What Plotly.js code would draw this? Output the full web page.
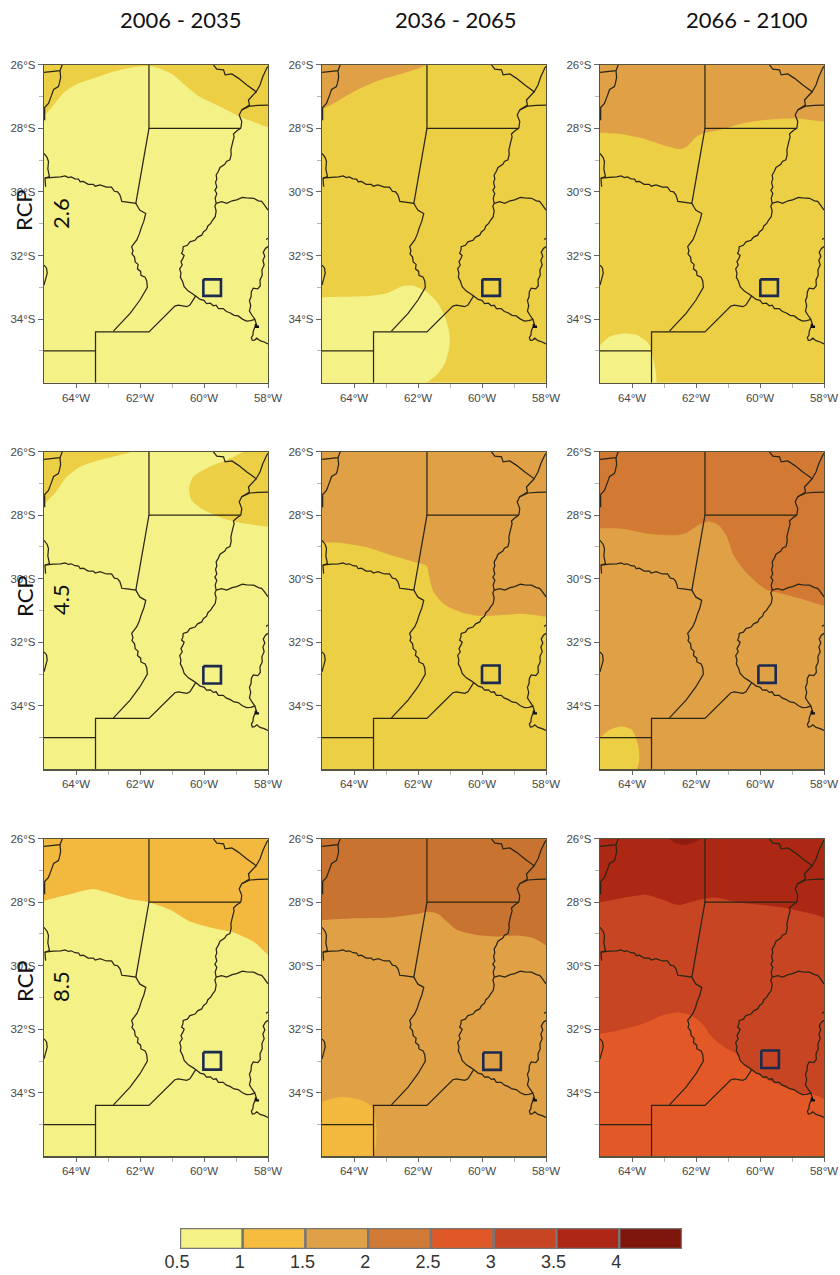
<!DOCTYPE html>
<html>
<head>
<meta charset="utf-8">
<script src="https://cdn.plot.ly/plotly-3.0.1.min.js"></script>
<style>html,body{margin:0;padding:0;background:#fff}#chart{width:840px;height:1275px}</style>
</head>
<body>
<div id="chart"></div>
<script>
// ---------- Categories and legend ----------
const periods = ['2006 - 2035', '2036 - 2065', '2066 - 2100'];
const scenarios = ['2.6', '4.5', '8.5'];
const legendCenters = [0.75, 1.25, 1.75, 2.25, 2.75, 3.25, 3.75, 4.25];
const legendWidths = [0.5, 0.5, 0.5, 0.5, 0.5, 0.5, 0.5, 0.5];
const legendValues = [1, 1, 1, 1, 1, 1, 1, 1];
const legendColors = ['#F4F287', '#F5BC40', '#E0A047', '#D07A35', '#E05827', '#C74522', '#AD2616', '#7E160C'];
const legendTicks = [0.5, 1, 1.5, 2, 2.5, 3, 3.5, 4];
const legendLabels = ['0.5', '1', '1.5', '2', '2.5', '3', '3.5', '4'];

// Map tick values
const lonTicks = [-64, -62, -60, -58];
const lonLabels = ['64°W', '62°W', '60°W', '58°W'];
const lonMinor = [-63, -61, -59];
const latTicks = [-26, -28, -30, -32, -34];
const latLabels = ['26°S', '28°S', '30°S', '32°S', '34°S'];
const latMinor = [-27, -29, -31, -33, -35];

// ---------- Boundaries [lon, lat] ----------
const santaFeNorth = [[-61.72,-26],[-61.72,-28],[-58.85,-28]];
const santaFeWest = [[-61.72,-28],[-62.13,-30.36]];
const cordobaNorthEast = [[-64.97,-29.57],[-64.71,-29.54],[-64.48,-29.53],[-64.34,-29.50],[-64.24,-29.55],[-64.15,-29.53],[-64.03,-29.59],[-63.92,-29.60],[-63.87,-29.68],[-63.77,-29.67],[-63.62,-29.76],[-63.46,-29.76],[-63.40,-29.82],[-63.25,-29.78],[-63.05,-29.85],[-62.89,-29.85],[-62.80,-29.98],[-62.70,-30.0],[-62.63,-30.09],[-62.60,-30.18],[-62.57,-30.30],[-62.40,-30.32],[-62.13,-30.36],[-62.05,-30.50],[-62.0,-30.58],[-61.82,-30.68],[-61.88,-30.92],[-61.95,-31.10],[-62.02,-31.32],[-62.10,-31.51],[-62.26,-31.72],[-62.22,-31.85],[-62.25,-31.95],[-62.17,-32.05],[-62.15,-32.20],[-62.06,-32.28],[-62.08,-32.42],[-61.98,-32.50],[-61.97,-32.62],[-61.84,-32.68],[-61.79,-32.80],[-61.77,-33.0],[-62.0,-33.4],[-62.31,-33.82],[-62.83,-34.38]];
const buenosAiresNorth = [[-65,-35],[-63.39,-35],[null,null],[-63.39,-36],[-63.39,-34.40],[-61.72,-34.40],[-60.91,-33.59],[-60.80,-33.56],[-60.54,-33.61],[-60.44,-33.56],[-60.26,-33.27]];
const paranaNorth = [[-58.85,-28],[-58.82,-27.79],[-58.90,-27.58],[-58.82,-27.42],[-58.56,-27.30],[-58.30,-27.28],[-58,-27.27]];
const paranaSouth = [[-58.85,-28],[-58.97,-28.08],[-59.08,-28.18],[-59.06,-28.27],[-59.10,-28.42],[-59.13,-28.55],[-59.16,-28.68],[-59.15,-28.82],[-59.19,-28.99],[-59.30,-29.04],[-59.35,-29.13],[-59.50,-29.23],[-59.55,-29.35],[-59.62,-29.47],[-59.60,-29.60],[-59.64,-29.70],[-59.60,-29.85],[-59.66,-29.95],[-59.60,-30.05],[-59.65,-30.20],[-59.62,-30.36],[-59.66,-30.45],[-59.62,-30.60],[-59.65,-30.78],[-59.74,-30.90],[-59.79,-30.99],[-59.88,-31.07],[-59.92,-31.18],[-60.02,-31.26],[-60.07,-31.36],[-60.20,-31.42],[-60.28,-31.52],[-60.44,-31.57],[-60.52,-31.68],[-60.65,-31.72],[-60.66,-31.84],[-60.70,-31.93],[-60.62,-32.0],[-60.66,-32.09],[-60.72,-32.2],[-60.68,-32.3],[-60.76,-32.42],[-60.72,-32.56],[-60.74,-32.68],[-60.67,-32.82],[-60.62,-32.98],[-60.49,-33.12],[-60.36,-33.2],[-60.26,-33.27],[-60.12,-33.38],[-60.0,-33.41],[-59.92,-33.51],[-59.80,-33.50],[-59.71,-33.58],[-59.62,-33.56],[-59.55,-33.67],[-59.40,-33.67],[-59.30,-33.76],[-59.19,-33.80],[-59.06,-33.88],[-58.93,-33.90],[-58.80,-34.0],[-58.67,-34.06],[-58.54,-34.05],[-58.41,-34.01],[-58.37,-34.14],[-58.40,-34.22],[-58.46,-34.38],[-58.47,-34.50],[-58.52,-34.58],[-58.49,-34.67],[-58.42,-34.66],[-58.35,-34.60],[-58.25,-34.68],[-58.12,-34.72],[-58,-34.78]];
const deltaMark = [[-58.38,-34.15],[-58.37,-34.24],[-58.28,-34.24]];
const entreRiosNorth = [[-59.62,-30.36],[-59.45,-30.31],[-59.29,-30.36],[-59.12,-30.28],[-58.98,-30.25],[-58.80,-30.17],[-58.67,-30.19],[-58.45,-30.20],[-58.30,-30.28],[-58.20,-30.30],[-58.12,-30.40],[-58,-30.57]];
const uruguayRiver = [[-58,-31.46],[-58.06,-31.50],[null,null],[-58,-31.72],[-58.08,-31.78],[-58.15,-31.90],[-58.10,-32.02],[-58.16,-32.15],[-58.12,-32.30],[-58.19,-32.45],[-58.18,-32.62],[-58.25,-32.77],[-58.24,-32.95],[-58.32,-33.05],[-58.46,-33.03],[-58.52,-33.14],[-58.53,-33.30],[-58.58,-33.42],[-58.54,-33.58],[-58.58,-33.75],[-58.50,-33.88],[-58.41,-34.01]];
const northEast = [[-59.71,-26],[-59.60,-26.14],[-59.39,-26.16],[-59.34,-26.32],[-59.13,-26.29],[-58.92,-26.43],[-58.66,-26.64],[-58.37,-26.85],[-58.25,-26.64],[-58.16,-26.37],[-58.04,-26.11],[-58,-26.05],[null,null],[-58.37,-26.85],[-58.61,-27.11],[-58.58,-27.27],[-58.82,-27.42]];
const northWest = [[-65,-26.24],[-64.5,-26.19],[-64.43,-26],[null,null],[-64.5,-26.19],[-64.48,-26.40],[-64.52,-26.59],[-64.55,-26.69],[-64.70,-26.78],[-64.76,-26.95],[-64.86,-27.22],[-65,-27.37],[null,null],[-64.98,-27.37],[-64.98,-27.75]];
const westEdgeA = [[-65,-28.79],[-64.90,-28.92],[-64.86,-29.05],[-64.88,-29.28],[-64.83,-29.52],[-64.97,-29.57],[-64.95,-29.84]];
const westEdgeB = [[-65,-32.3],[-64.92,-32.40],[-64.9,-32.56],[-65,-32.93]];
const boundaries = [santaFeNorth, santaFeWest, cordobaNorthEast, buenosAiresNorth, paranaNorth, paranaSouth, entreRiosNorth, uruguayRiver, northEast, northWest, westEdgeA, westEdgeB];

// ---------- Study-site box per panel [lonMin, lonMax, latTop, latBottom] ----------
const siteBoxes = [
  [-60.02,-59.47,-32.75,-33.27], [-59.99,-59.44,-32.75,-33.27], [-59.99,-59.44,-32.75,-33.27],
  [-60.02,-59.47,-32.75,-33.30], [-60.00,-59.45,-32.73,-33.28], [-60.05,-59.51,-32.73,-33.28],
  [-60.02,-59.47,-32.72,-33.27], [-59.96,-59.41,-32.73,-33.28], [-59.96,-59.41,-32.67,-33.22]
];

// ---------- Colours of the classes seen on the maps ----------
const paleYellow = '#F4F287', gold = '#ECCF45', amber = '#F3B93E', orange = '#E0A045',
      brownOrange = '#D27A33', darkOrange = '#C8732F', redOrange = '#E25827', red = '#C74522',
      deepRed = '#AD2814', darkRed = '#8F1C0E';

// ---------- Contour band outlines [lon, lat]; closing points lie outside the frame ----------
const b11Top = [[-65.5,-27.9],[-65,-27.61],[-64.66,-27.22],[-64.40,-26.90],[-64.03,-26.64],[-63.46,-26.43],[-62.83,-26.22],[-62.21,-26.08],[-61.72,-26.04],[-61.38,-26.12],[-60.96,-26.32],[-60.54,-26.69],[-60.13,-27.01],[-59.60,-27.27],[-58.87,-27.64],[-58,-27.97],[-57.5,-28.2],[-57.5,-25.5],[-65.5,-25.5]];
const b12Top = [[-65.5,-27.65],[-65,-27.40],[-64.65,-27.22],[-63.92,-26.80],[-63.19,-26.48],[-62.46,-26.27],[-61.73,-26],[-61.2,-25.5],[-65.5,-25.5]];
const b12Low = [[-65.5,-33.32],[-65,-33.32],[-64.44,-33.30],[-63.5,-33.27],[-62.98,-33.19],[-62.46,-32.96],[-62.15,-32.95],[-61.73,-33.14],[-61.42,-33.45],[-61.16,-33.92],[-61.02,-34.45],[-61.02,-34.87],[-61.16,-35.39],[-61.42,-35.76],[-61.73,-36],[-62.2,-36.4],[-65.5,-36.4]];
const b13Top = [[-65.5,-28.12],[-65,-28.14],[-64.375,-28.18],[-63.65,-28.32],[-63.02,-28.53],[-62.5,-28.65],[-62.29,-28.58],[-61.98,-28.26],[-61.72,-28.14],[-61.25,-28.05],[-60.52,-27.84],[-59.69,-27.72],[-58.85,-27.69],[-58.02,-27.79],[-57.5,-27.85],[-57.5,-25.5],[-65.5,-25.5]];
const b13Low = [[-65.5,-35.2],[-65,-34.82],[-64.69,-34.55],[-64.27,-34.45],[-63.85,-34.50],[-63.49,-34.76],[-63.33,-35.29],[-63.25,-35.71],[-63.23,-36],[-63.2,-36.4],[-65.5,-36.4]];
const b21Left = [[-65.5,-28.1],[-65,-27.65],[-64.66,-27.31],[-64.29,-26.79],[-63.87,-26.47],[-63.25,-26.26],[-62.62,-26.10],[-62.26,-26],[-61.9,-25.7],[-65.5,-25.5]];
const b21Right = [[-58.3,-25.7],[-58.77,-26],[-59.29,-26.26],[-59.92,-26.52],[-60.33,-26.79],[-60.47,-27.15],[-60.39,-27.52],[-60.02,-27.83],[-59.40,-28.10],[-58.67,-28.27],[-58,-28.36],[-57.5,-28.4],[-57.5,-25.5]];
const b22Top = [[-65.5,-28.85],[-65,-28.86],[-64.33,-28.88],[-63.60,-29.01],[-62.87,-29.25],[-62.04,-29.49],[-61.73,-29.60],[-61.65,-29.93],[-61.52,-30.40],[-61.16,-30.82],[-60.58,-31.08],[-60.06,-31.17],[-59.33,-31.14],[-58.71,-31.10],[-58,-31.19],[-57.5,-31.2],[-57.5,-25.5],[-65.5,-25.5]];
const b23Top = [[-65.5,-28.4],[-65,-28.41],[-64.27,-28.43],[-63.44,-28.59],[-62.60,-28.63],[-62.29,-28.55],[-61.92,-28.31],[-61.61,-28.20],[-61.30,-28.31],[-61.04,-28.67],[-60.83,-29.25],[-60.42,-29.82],[-59.79,-30.35],[-59.27,-30.48],[-58.65,-30.65],[-58,-30.85],[-57.5,-31.0],[-57.5,-25.5],[-65.5,-25.5]];
const b23Low = [[-65.5,-35.4],[-65,-35.01],[-64.69,-34.75],[-64.32,-34.65],[-64.01,-34.75],[-63.80,-35.28],[-63.77,-35.70],[-63.85,-36],[-64,-36.4],[-65.5,-36.4]];
const b31Top = [[-65.5,-28.05],[-65,-27.95],[-64.29,-27.77],[-63.46,-27.58],[-63.04,-27.69],[-62.42,-27.88],[-61.72,-28.0],[-61.06,-28.24],[-60.44,-28.61],[-59.71,-28.82],[-59.08,-28.95],[-58.46,-29.24],[-58,-29.66],[-57.5,-30.1],[-57.5,-25.5],[-65.5,-25.5]];
const b32Top = [[-65.5,-28.58],[-65,-28.56],[-64.125,-28.51],[-62.875,-28.48],[-62.04,-28.37],[-61.68,-28.30],[-61.37,-28.37],[-61.10,-28.61],[-60.79,-28.87],[-60.17,-29.03],[-59.44,-29.08],[-58.92,-29.05],[-58.40,-29.13],[-58,-29.36],[-57.5,-29.7],[-57.5,-25.5],[-65.5,-25.5]];
const b32Low = [[-65.5,-34.5],[-65,-34.29],[-64.65,-34.17],[-64.28,-34.13],[-63.81,-34.22],[-63.45,-34.43],[-63.31,-35.0],[-63.31,-35.63],[-63.40,-36],[-63.5,-36.4],[-65.5,-36.4]];
const b33Top = [[-65.5,-28.08],[-65,-28.0],[-64.375,-27.88],[-63.54,-27.77],[-63.02,-27.93],[-62.55,-28.09],[-62.29,-28.03],[-61.72,-27.88],[-61.35,-27.86],[-60.73,-28.0],[-59.90,-28.09],[-59.17,-28.19],[-58.44,-28.35],[-58,-28.48],[-57.5,-28.6],[-57.5,-25.5],[-65.5,-25.5]];
const b33Blob = [[-63.1,-25.8],[-62.86,-26],[-62.6,-26.15],[-62.34,-26.2],[-62.08,-26.12],[-61.82,-26],[-61.6,-25.8]];
const b33Low = [[-65.5,-32.2],[-65,-32.14],[-64.58,-32.07],[-63.75,-31.86],[-63.02,-31.55],[-62.55,-31.47],[-62.19,-31.55],[-61.82,-31.81],[-61.51,-32.23],[-61.15,-32.54],[-60.78,-32.75],[-60.52,-33.07],[-60.26,-33.27],[-59.79,-33.59],[-59.17,-33.85],[-58.65,-34.04],[-58.39,-34.04],[-58,-34.19],[-57.5,-34.4],[-57.5,-36.4],[-65.5,-36.4]];

const panelBase = [paleYellow, gold, gold, paleYellow, gold, orange, paleYellow, orange, red];
const panelBands = [
  [[b11Top, gold]],
  [[b12Top, orange], [b12Low, paleYellow]],
  [[b13Top, orange], [b13Low, paleYellow]],
  [[b21Left, gold], [b21Right, gold]],
  [[b22Top, orange]],
  [[b23Top, brownOrange], [b23Low, gold]],
  [[b31Top, amber]],
  [[b32Top, darkOrange], [b32Low, amber]],
  [[b33Top, deepRed], [b33Blob, darkRed], [b33Low, redOrange]]
];

// ---------- Layout geometry (page pixels) ----------
const W = 840, H = 1275;
const colPx = [[44, 268], [322, 546], [600, 824]];
const rowPx = [[64.7, 382.7], [451.7, 769.3], [838.7, 1156.3]];
const px = v => v / W, py = v => 1 - v / H;

const traces = [];
const layout = {
  width: W, height: H, margin: {l: 0, r: 0, t: 0, b: 0},
  paper_bgcolor: '#fff', plot_bgcolor: '#fff', showlegend: false, annotations: [],
  font: {family: '"Liberation Sans", Arial, sans-serif', color: '#444'}
};

// Join polylines with gaps
const borderLon = [], borderLat = [];
boundaries.forEach(line => {
  line.forEach(p => { borderLon.push(p[0]); borderLat.push(p[1]); });
  borderLon.push(null); borderLat.push(null);
});

for (let r = 0; r < 3; r++) {
  for (let c = 0; c < 3; c++) {
    const k = r * 3 + c, n = k + 1;
    const xa = 'x' + (n === 1 ? '' : n), ya = 'y' + (n === 1 ? '' : n);
    const axisStyle = {
      tickmode: 'array', ticks: 'outside', tickwidth: 1, tickcolor: '#666',
      showgrid: false, zeroline: false, showline: true, mirror: true,
      linecolor: '#55553f', linewidth: 1.2, fixedrange: true,
      tickfont: {size: 11.5, color: '#484848', family: '"Liberation Sans", Arial, sans-serif'}
    };
    const minorStyle = {tickmode: 'array', ticks: 'outside', ticklen: 4, tickwidth: 1, tickcolor: '#b5b5b0', showgrid: false};
    layout['xaxis' + (n === 1 ? '' : n)] = Object.assign({}, axisStyle, {
      domain: [px(colPx[c][0]), px(colPx[c][1])], range: [-65, -58], anchor: ya, ticklen: 4,
      tickvals: lonTicks, ticktext: lonLabels, minor: Object.assign({tickvals: lonMinor}, minorStyle)
    });
    layout['yaxis' + (n === 1 ? '' : n)] = Object.assign({}, axisStyle, {
      domain: [py(rowPx[r][1]), py(rowPx[r][0])], range: [-36, -26], anchor: xa, ticklen: 5,
      tickvals: latTicks, ticktext: latLabels, minor: Object.assign({tickvals: latMinor}, minorStyle)
    });
    // base class
    traces.push({x: [-65.5, -57.5, -57.5, -65.5], y: [-25.5, -25.5, -36.5, -36.5], xaxis: xa, yaxis: ya,
      mode: 'lines', line: {width: 0}, fill: 'toself', fillcolor: panelBase[k], hoverinfo: 'skip'});
    // contour bands
    panelBands[k].forEach(b => {
      traces.push({x: b[0].map(p => p[0]), y: b[0].map(p => p[1]), xaxis: xa, yaxis: ya,
        mode: 'lines', line: {width: 0, shape: 'spline', smoothing: 0.7}, fill: 'toself', fillcolor: b[1], hoverinfo: 'skip'});
    });
    // boundaries
    traces.push({x: borderLon, y: borderLat, xaxis: xa, yaxis: ya, mode: 'lines',
      line: {color: '#2a2615', width: 1.25, simplify: false}, hoverinfo: 'skip', connectgaps: false});
    traces.push({x: deltaMark.map(p => p[0]), y: deltaMark.map(p => p[1]), xaxis: xa, yaxis: ya, mode: 'lines',
      line: {color: '#111', width: 2.4, simplify: false}, hoverinfo: 'skip'});
    // site box
    const s = siteBoxes[k];
    traces.push({x: [s[0], s[1], s[1], s[0], s[0]], y: [s[2], s[2], s[3], s[3], s[2]], xaxis: xa, yaxis: ya,
      mode: 'lines', line: {color: '#1B2A4E', width: 2.6}, hoverinfo: 'skip'});
  }
}

// Column titles
const titleCenters = [181, 456.5, 747];
periods.forEach((t, i) => layout.annotations.push({
  text: t, xref: 'paper', yref: 'paper', x: px(titleCenters[i]), y: py(20),
  xanchor: 'center', yanchor: 'middle', showarrow: false,
  font: {family: 'Lato, sans-serif', size: 22, color: '#111'}
}));

// Row labels
const rcpY = [210, 596, 981];
const numY = [214, 600, 987];
scenarios.forEach((t, i) => {
  layout.annotations.push({text: 'RCP', xref: 'paper', yref: 'paper', x: px(24), y: py(rcpY[i]),
    xanchor: 'center', yanchor: 'middle', textangle: -90, showarrow: false,
    font: {family: 'Lato, sans-serif', size: 22, color: '#111'}});
  layout.annotations.push({text: t, xref: 'paper', yref: 'paper', x: px(60), y: py(numY[i]),
    xanchor: 'center', yanchor: 'middle', textangle: -90, showarrow: false,
    font: {family: 'Lato, sans-serif', size: 22, color: '#111'}});
});

// Legend bar
traces.push({type: 'bar', x: legendCenters, y: legendValues, width: legendWidths, xaxis: 'x10', yaxis: 'y10',
  marker: {color: legendColors, line: {color: '#777', width: 2.4}}, cliponaxis: false, hoverinfo: 'skip'});
layout.xaxis10 = {domain: [px(180), px(682)], range: [0.5, 4.5], anchor: 'y10', tickmode: 'array',
  tickvals: legendTicks, ticktext: legendLabels, ticks: '', showgrid: false, zeroline: false, showline: false,
  fixedrange: true, ticklabelshift: -3, tickfont: {size: 18, color: '#333', family: '"Liberation Sans", Arial, sans-serif'}};
layout.yaxis10 = {domain: [py(1249), py(1228)], range: [0, 1], anchor: 'x10', showticklabels: false,
  ticks: '', showgrid: false, zeroline: false, showline: false, fixedrange: true};

Plotly.newPlot('chart', traces, layout, {displayModeBar: false, staticPlot: true});
</script>
</body>
</html>
